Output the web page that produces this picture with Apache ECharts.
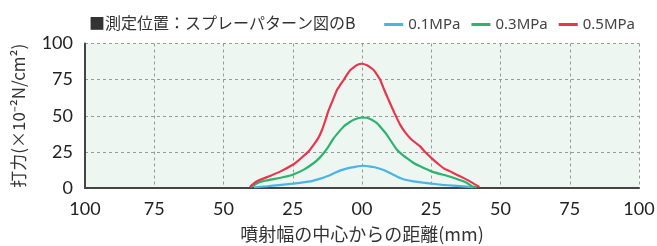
<!DOCTYPE html>
<html><head><meta charset="utf-8">
<script src="https://cdn.jsdelivr.net/npm/echarts@6/dist/echarts.min.js"></script>
<style>html,body{margin:0;padding:0;background:#fff}#c{width:657px;height:246px}</style>
</head><body><div id="c"></div>
<script>
const title = '■測定位置：スプレーパターン図のB';
const xName = '噴射幅の中心からの距離(mm)';
const yName = '打力(×10⁻²N/cm²)';
const xTicks = [-100,-75,-50,-25,0,25,50,75,100];
const yTicks = [0,25,50,75,100];
const names = ['0.1MPa','0.3MPa','0.5MPa'];
const colors = ['#4bb4e6','#2db36f','#e8364f'];
const s01 = [[-39,0.5],[-34.2,1.2],[-30,2],[-25,3],[-18.6,4.6],[-15,6.5],[-12.6,8.1],[-10,10.3],[-7.8,12.2],[-5,13.8],[-3,14.5],[0.6,15.4],[2.5,15],[4.2,14.5],[7,13],[9,11.5],[11.5,9],[13.8,6.9],[16,5.5],[18.6,4.6],[22,3.7],[25.1,3],[29,2.2],[33,1.6],[37.8,0.9],[40.2,0.5]];
const s03 = [[-40.2,0.7],[-38.5,2.6],[-37.2,3.9],[-35,5],[-33,5.8],[-28.2,7.6],[-25,9.2],[-21,12.7],[-17.4,17.3],[-15.5,20.5],[-13.8,24.2],[-12,29],[-10.2,34.5],[-8.5,38.5],[-6.6,42.6],[-4.5,45.5],[-3,47.2],[0,48.8],[1.8,48.6],[3.5,47.2],[5.4,44.9],[7.2,41],[9,36.8],[10.8,31.5],[12.6,26.5],[14.4,23.3],[16.2,20.7],[18.5,17.5],[21,15],[25.1,11.5],[28,9.8],[30.6,8.5],[33.5,6.8],[36.6,4.6],[38.5,2.8],[39.6,1.2],[41.4,0.5]];
const s05 = [[-40.5,0.7],[-38.8,3.5],[-37.2,5.3],[-35,7],[-33,8.5],[-29.4,11.5],[-25,16.1],[-23,19],[-21,22.3],[-19,26],[-17.4,30],[-15.8,34.5],[-14.4,40.3],[-13.2,47],[-12,54],[-10.5,61],[-9,68],[-7.8,71.5],[-6.6,74.8],[-5.4,78.5],[-4.2,81.7],[-3,83.5],[-1.8,85.2],[0,86],[1.8,85],[3,83.5],[4.2,81.7],[5.4,78.5],[6.6,74.8],[8,68],[9.6,61],[11.7,52],[13.8,43.7],[15.6,38.5],[17.4,34.5],[19.2,31.5],[21,28.8],[23,24.5],[25.1,20.7],[27.3,17],[29.4,13.8],[31.8,11.5],[34.2,9.2],[36.6,7],[39,4.6],[40.8,2.5],[42.4,0.7]];
const seriesData = [s01, s03, s05];

const chart = echarts.init(document.getElementById('c'), null, {renderer:'canvas'});
const fontFam = 'Lato, "Noto Sans CJK JP", sans-serif';
chart.setOption({
  animation:false,
  title:{text:title, left:84, top:10, textStyle:{fontSize:16, fontWeight:'normal', color:'#333', fontFamily:'"Noto Sans CJK JP", sans-serif'}},
  legend:{data:names, right:17, top:12, itemWidth:19, itemHeight:3, itemGap:11, icon:'rect',
    textStyle:{fontSize:15, color:'#444', fontFamily:'"Noto Sans", sans-serif'}},
  grid:{left:85, right:18, top:43.5, bottom:58, show:true, backgroundColor:'#eef6f1', borderWidth:0, containLabel:false, outerBoundsMode:'none'},
  xAxis:{type:'value', min:-100, max:100, interval:25,
    name:xName, nameLocation:'middle', nameGap:37,
    nameTextStyle:{fontSize:18, color:'#333', fontFamily:'"Noto Sans CJK JP", sans-serif'},
    axisLine:{onZero:false, lineStyle:{color:'#444', width:2}}, axisTick:{show:false},
    axisLabel:{fontSize:18, color:'#222', margin:12, fontFamily:fontFam,
      formatter:v => v===0 ? '00' : String(Math.abs(v))},
    splitLine:{show:true, lineStyle:{color:'#9a9a9a', type:[3,3], width:1}}},
  yAxis:{type:'value', min:0, max:100, interval:25,
    name:yName, nameLocation:'middle', nameGap:58,
    nameTextStyle:{fontSize:17, color:'#333', fontFamily:'"Noto Sans CJK JP", sans-serif'},
    axisLine:{show:true, onZero:false, lineStyle:{color:'#444', width:2}}, axisTick:{show:false},
    axisLabel:{fontSize:18, color:'#222', margin:12, fontFamily:fontFam},
    splitLine:{show:true, lineStyle:{color:'#9a9a9a', type:[3,3], width:1}}},
  series: names.map((n,i)=>({name:n, type:'line', data:seriesData[i], showSymbol:false, symbol:'none',
    lineStyle:{color:colors[i], width:2.2}, itemStyle:{color:colors[i]}, smooth:0.2}))
});
</script></body></html>
